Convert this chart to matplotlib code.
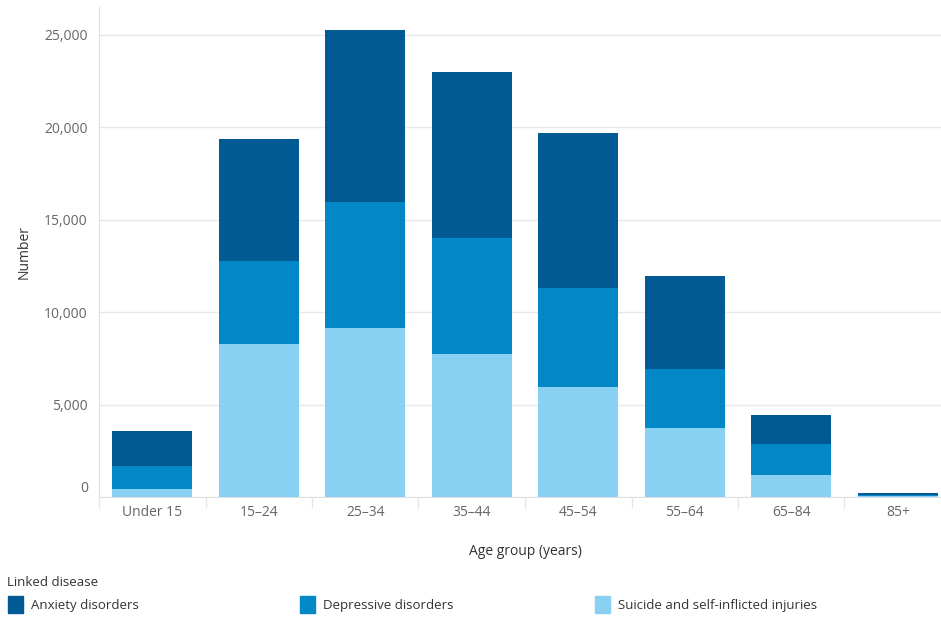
import numpy             as np
import matplotlib.pyplot as plt
import matplotlib.transforms as mtransforms
from matplotlib.patches import Rectangle

# values
ageGroups  = ['Under 15', '15–24', '25–34', '35–44', '45–54', '55–64', '65–84', '85+']
suicide    = [430, 8290, 9150, 7750, 5960, 3720, 1210, 50]
depressive = [1250, 4490, 6780, 6280, 5360, 3180, 1660, 60]
anxiety    = [1870, 6560, 9310, 8940, 8340, 5030, 1590, 90]

seriesNames = ['Anxiety disorders', 'Depressive disorders', 'Suicide and self-inflicted injuries']
colors      = {'Anxiety disorders': '#025A95',
               'Depressive disorders': '#0288C6',
               'Suicide and self-inflicted injuries': '#89D1F2'}

plt.rcParams['font.family'] = ['Open Sans', 'DejaVu Sans']

fig = plt.figure(figsize=(9.41, 6.17), dpi=100)
# plot area runs slightly past the right edge, as in the original
ax  = fig.add_axes([99/941, 1 - 497/617, 852/941, 490/617])

x = np.arange(len(ageGroups))
w = 0.75
sui = np.array(suicide)
dep = np.array(depressive)
anx = np.array(anxiety)

ax.bar(x, sui, width=w, color=colors['Suicide and self-inflicted injuries'], zorder=3)
ax.bar(x, dep, width=w, bottom=sui, color=colors['Depressive disorders'], zorder=3)
ax.bar(x, anx, width=w, bottom=sui + dep, color=colors['Anxiety disorders'], zorder=3)

ax.set_xlim(-0.5, len(ageGroups) - 0.5)
ax.set_ylim(0, 26500)
ax.set_yticks([0, 5000, 10000, 15000, 20000, 25000])
ax.set_yticklabels(['0', '5,000', '10,000', '15,000', '20,000', '25,000'])
ax.set_xticks(x)
ax.set_xticklabels(ageGroups)
ax.tick_params(axis='both', length=0, labelsize=10, labelcolor='#666666', pad=6)
ax.tick_params(axis='y', pad=8)

# the zero label sits a little above the baseline
zeroLabel = ax.get_yticklabels()[0]
zeroLabel.set_transform(zeroLabel.get_transform() +
                        mtransforms.ScaledTranslation(0, 10/100, fig.dpi_scale_trans))

# separator ticks between categories
ax.set_xticks(np.arange(len(ageGroups) + 1) - 0.5, minor=True)
ax.tick_params(axis='x', which='minor', length=8, color='#e6e6e6', width=1)

ax.grid(axis='y', color='#e8e8e8', linewidth=1, zorder=0)
for s in ['top', 'right']:
    ax.spines[s].set_visible(False)
ax.spines['left'].set_color('#e0e0e0')
ax.spines['bottom'].set_color('#e0e0e0')

ax.set_ylabel('Number', fontsize=10, color='#333333', labelpad=9)
ax.set_xlabel('Age group (years)', fontsize=10, color='#333333', labelpad=17)

# legend below
fig.text(7/941, 1 - 583/617, 'Linked disease', fontsize=9.5, color='#333333', va='center', ha='left')
legX = [8, 300, 595]
for name, lx in zip(seriesNames, legX):
    fig.patches.append(Rectangle((lx/941, 1 - 613/617), 15/941, 17/617,
                                 transform=fig.transFigure, color=colors[name]))
    fig.text((lx + 23)/941, 1 - 605/617, name, fontsize=9.5, color='#333333', va='center', ha='left')

plt.savefig('out.png', dpi=100)
plt.close('all')
